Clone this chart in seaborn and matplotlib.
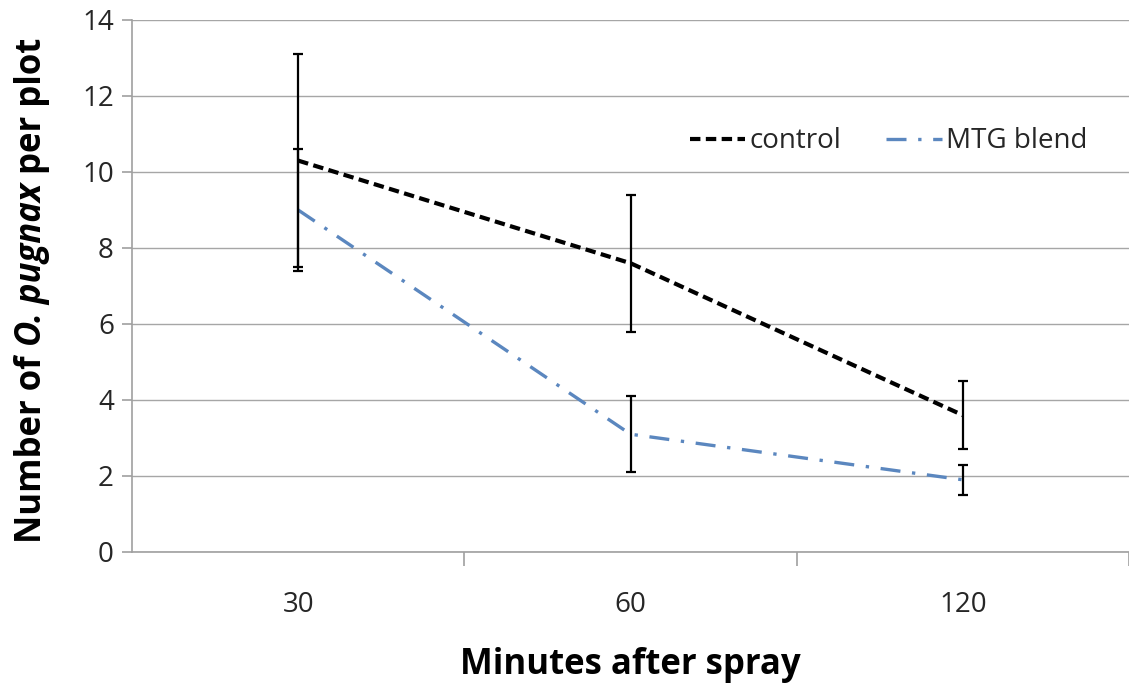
import matplotlib
matplotlib.use("Agg")
import matplotlib.pyplot as plt
import seaborn as sns
import pandas as pd
import numpy as np

minutes = ["30", "60", "120"]
control = [10.3, 7.6, 3.6]
control_err = [2.8, 1.8, 0.9]
mtg = [9.0, 3.1, 1.9]
mtg_err = [1.6, 1.0, 0.4]
y_ticks = [0, 2, 4, 6, 8, 10, 12, 14]

sns.set_theme(style="white")
plt.rcParams['font.family'] = ['Open Sans', 'DejaVu Sans']

df = pd.DataFrame({
    "minutes": minutes * 2,
    "count": control + mtg,
    "group": ["control"] * 3 + ["MTG blend"] * 3,
})

fig = plt.figure(figsize=(11.29, 6.90), dpi=100)
ax = fig.add_axes([132/1129, 1 - 552/690, 1 - 132/1129, (552 - 20)/690])

BLUE = "#5B87BF"
pal = {"control": "black", "MTG blend": BLUE}
sns.lineplot(data=df, x="minutes", y="count", hue="group", palette=pal,
             ax=ax, legend=False, sort=False)
lines = ax.get_lines()
lines[0].set_linewidth(3.0)
lines[0].set_dashes([2.5, 1.3])
lines[1].set_linewidth(2.4)
lines[1].set_dashes([6, 3.5, 1, 3.5])

xpos = np.arange(len(minutes))
ax.errorbar(xpos, control, yerr=control_err, fmt="none", ecolor="black",
            elinewidth=1.6, capsize=3.6, capthick=1.6, zorder=5)
ax.errorbar(xpos, mtg, yerr=mtg_err, fmt="none", ecolor="black",
            elinewidth=1.6, capsize=3.6, capthick=1.6, zorder=5)

ax.set_xlim(-0.5, 2.5)
ax.set_ylim(0, 14)
ax.set_yticks(y_ticks)
ax.set_xticks(xpos)
ax.set_xticklabels(minutes)
ax.set_xticks([0.5, 1.5, 2.5], minor=True)
ax.yaxis.grid(True, color="#A6A6A6", linewidth=1.0)
ax.set_axisbelow(True)
for s in ["top", "right"]:
    ax.spines[s].set_visible(False)
for s in ["left", "bottom"]:
    ax.spines[s].set_color("#A0A0A0")
    ax.spines[s].set_linewidth(1.2)
ax.tick_params(axis="y", which="major", length=7, color="#A0A0A0", width=1.2,
               labelsize=20, labelcolor="#262626", pad=6, left=True)
ax.tick_params(axis="x", which="major", length=0, labelsize=20,
               labelcolor="#262626", pad=28)
ax.tick_params(axis="x", which="minor", length=10, color="#A0A0A0", width=1.2,
               bottom=True, direction="out")
ax.set_xlabel("")
ax.set_ylabel("")

from matplotlib.lines import Line2D
h1 = Line2D([], [], color="black", linewidth=3.0, dashes=[2.5, 1.3])
h2 = Line2D([], [], color=BLUE, linewidth=2.4, dashes=[6, 3.5, 1, 3.5])
ax.legend([h1, h2], ["control", "MTG blend"], loc="upper right",
          bbox_to_anchor=(0.983, 0.845), frameon=False, ncol=2, fontsize=20,
          handlelength=2.0, handletextpad=0.15, columnspacing=1.6)

fig.text(630/1129, 1 - 665/690, "Minutes after spray", ha="center", va="center",
         fontsize=25, fontweight="bold", color="black")

# y label with mixed styles
parts = [("Number of ", "normal"), ("O. pugnax", "italic"), (" per plot", "normal")]
renderer = fig.canvas.get_renderer()
texts = []
heights = []
for s, st in parts:
    t = fig.text(0, 0, s, rotation=90, fontsize=25, fontweight="bold",
                 fontstyle=st, ha="center", va="bottom", color="black")
    texts.append(t)
    bb = t.get_window_extent(renderer=renderer)
    heights.append(bb.height)
total = sum(heights)
xc = 32
ycenter_disp = 690 - 290
y = ycenter_disp - total / 2
for t, h in zip(texts, heights):
    t.set_position((xc / 1129, y / 690))
    y += h

fig.savefig("out.png", dpi=100)
